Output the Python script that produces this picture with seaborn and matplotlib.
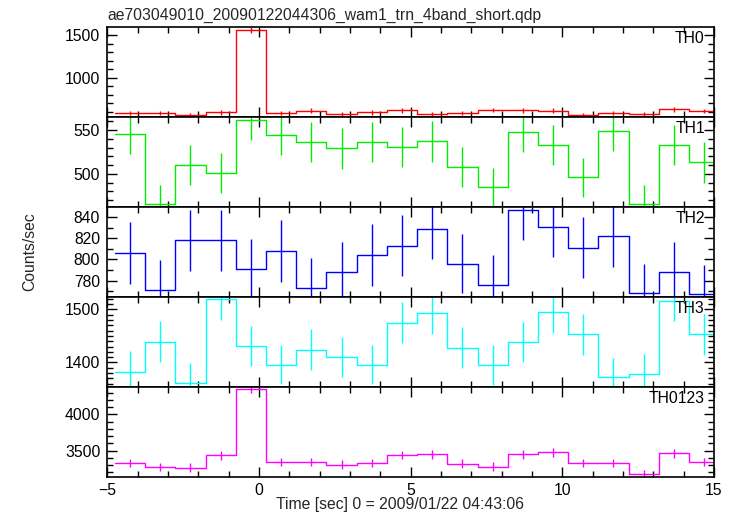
import numpy as np
import pandas as pd
import matplotlib
matplotlib.use("Agg")
import matplotlib.pyplot as plt
import seaborn as sns
from matplotlib.ticker import MultipleLocator

# ---- data ----
bin_start = -4.745   # s, left edge of first time bin
bin_width = 0.996    # s
th0 = [589, 589, 566, 592, 1563, 589, 613, 577, 592, 615,
       577, 589, 619, 615, 613, 566, 589, 577, 627, 609]
th0_err = [25, 25, 24, 25, 35, 25, 25, 24, 25, 25,
           24, 25, 25, 25, 25, 24, 25, 24, 25, 25]
th1 = [545, 465, 510, 501, 562, 544, 536, 529, 536, 531,
       537, 508, 485, 548, 533, 496, 549, 465, 533, 513]
th1_err = [22, 22, 23, 23, 23, 23, 23, 23, 23, 23,
           23, 23, 22, 23, 23, 22, 23, 22, 23, 23]
th2 = [806, 771, 818, 818, 791, 808, 773, 788, 804, 813,
       829, 796, 776, 847, 831, 811, 822, 768, 788, 767]
th2_err = [29, 28, 29, 29, 28, 29, 28, 28, 29, 29,
           29, 28, 28, 29, 29, 29, 29, 28, 28, 28]
th3 = [1383, 1439, 1362, 1519, 1431, 1396, 1424, 1410, 1396, 1475,
       1492, 1428, 1395, 1438, 1494, 1453, 1372, 1379, 1516, 1453]
th3_err = [38, 38, 37, 39, 38, 37, 38, 38, 37, 38,
           39, 38, 37, 38, 39, 38, 37, 37, 39, 38]
th0123 = [3325, 3270, 3266, 3435, 4353, 3339, 3343, 3307, 3325, 3440,
          3449, 3321, 3280, 3449, 3477, 3330, 3330, 3183, 3463, 3339]
th0123_err = [58, 57, 57, 59, 66, 58, 58, 58, 58, 59,
              59, 58, 57, 59, 59, 58, 58, 56, 59, 58]

panel_names = ["TH0", "TH1", "TH2", "TH3", "TH0123"]
series = [th0, th1, th2, th3, th0123]
errors = [th0_err, th1_err, th2_err, th3_err, th0123_err]
colors = ["#ff0000", "#00ee00", "#0000ff", "#00ffff", "#ff00ff"]
ylims = [(538, 1594), (462, 565), (764.5, 849.5), (1354, 1523), (3136, 4376)]
ymajor = [500, 50, 20, 100, 500]
yminor = [100, 10, 10, 10, 100]

title = "ae703049010_20090122044306_wam1_trn_4band_short.qdp"
xlabel = "Time [sec] 0 = 2009/01/22 04:43:06"
ylabel = "Counts/sec"

# ---- style ----
sns.set_theme(style="ticks")
plt.rcParams['font.family'] = ['Liberation Sans', 'DejaVu Sans']
plt.rcParams.update({
    'axes.linewidth': 1.2,
    'axes.edgecolor': 'black',
    'xtick.color': 'black',
    'ytick.color': 'black',
    'font.size': 11.3,
})
FS = 11.3

fig, axes = plt.subplots(5, 1, figsize=(7.33, 5.16), dpi=100, sharex=True,
                         gridspec_kw=dict(hspace=0))
fig.subplots_adjust(left=0.1462, right=0.974, top=0.9477, bottom=0.0756)

for ax, name, vals, err, c, yl, ymj, ymn in zip(axes, panel_names, series, errors,
                                                 colors, ylims, ymajor, yminor):
    n = len(vals)
    edges = bin_start + bin_width * np.arange(n + 1)
    centers = edges[:-1] + bin_width / 2
    df = pd.DataFrame({"t": edges, "rate": list(vals) + [vals[-1]]})
    sns.lineplot(data=df, x="t", y="rate", drawstyle="steps-post", color=c,
                 linewidth=1.0, ax=ax, estimator=None, sort=False)
    ax.errorbar(centers, vals, yerr=err, fmt="none", ecolor=c, elinewidth=1.0,
                capsize=0)
    ax.set_xlim(-5, 15)
    ax.set_ylim(*yl)
    ax.yaxis.set_major_locator(MultipleLocator(ymj))
    ax.yaxis.set_minor_locator(MultipleLocator(ymn))
    ax.xaxis.set_major_locator(MultipleLocator(5))
    ax.xaxis.set_minor_locator(MultipleLocator(1))
    ax.tick_params(which="both", direction="in", top=True, right=True,
                   bottom=True, left=True, width=1.0, labelsize=FS)
    ax.tick_params(which="major", length=7, pad=5)
    ax.tick_params(which="minor", length=4)
    ax.set_xlabel("")
    ax.set_ylabel("")
    for s in ax.spines.values():
        s.set_linewidth(1.2)
    ax.text(0.985, 0.955, name, transform=ax.transAxes, ha="right", va="top",
            fontsize=FS, color="black")

axes[-1].tick_params(axis="x", which="major", pad=4)

fig.text(107 / 733, 1 - 20 / 516, title, ha="left", va="baseline", fontsize=FS)
fig.text(30 / 733, 1 - 251.7 / 516, ylabel, ha="center", va="center",
         rotation=90, fontsize=FS)
fig.text(400 / 733, 1 - 505 / 516, xlabel, ha="center", va="center",
         fontsize=FS)

fig.savefig("out.png", dpi=100)
